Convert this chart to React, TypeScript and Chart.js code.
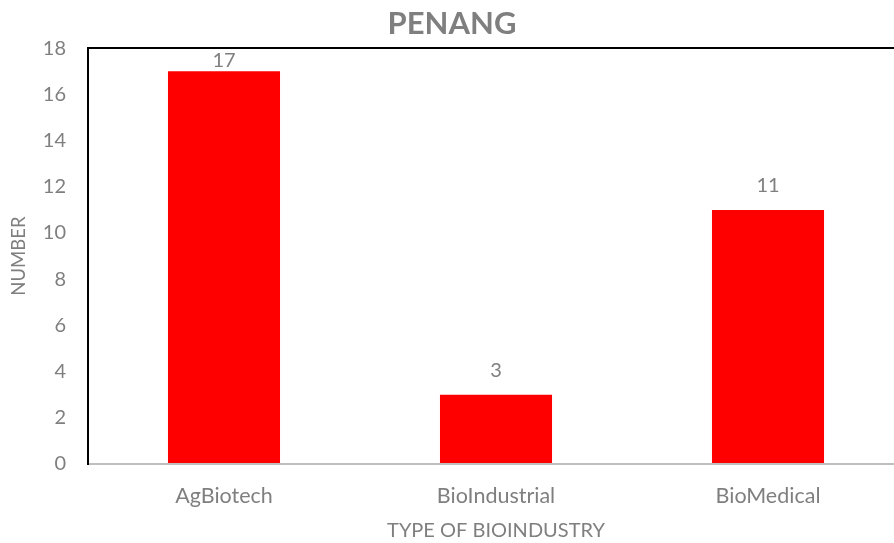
import React, { useEffect, useRef } from "react";
import { Chart, registerables } from "chart.js";

Chart.register(...registerables);

const categories = ["AgBiotech", "BioIndustrial", "BioMedical"];
const values = [17, 3, 11];
const titleText = "PENANG";
const xTitle = "TYPE OF BIOINDUSTRY";
const yTitle = "NUMBER";

const FONT = "Lato, 'Open Sans', sans-serif";
const GRAY = "#7f7f7f";

const labelPlugin = {
  id: "barLabels",
  afterDatasetsDraw(chart: any) {
    const ctx = chart.ctx;
    const meta = chart.getDatasetMeta(0);
    const top = chart.chartArea.top;
    ctx.save();
    ctx.fillStyle = GRAY;
    ctx.font = `20px ${FONT}`;
    ctx.textAlign = "center";
    ctx.textBaseline = "middle";
    meta.data.forEach((bar: any, i: number) => {
      let y = bar.y - 24;
      if (y < top + 12) y = top + 12;
      ctx.fillText(String(values[i]), bar.x, y);
    });
    ctx.restore();
  },
};

export default function App() {
  const ref = useRef<HTMLCanvasElement>(null);
  useEffect(() => {
    const chart = new Chart(ref.current!, {
      type: "bar",
      data: {
        labels: categories,
        datasets: [
          {
            data: values,
            backgroundColor: "#ff0000",
            categoryPercentage: 1,
            barPercentage: 0.412,
          },
        ],
      },
      options: {
        responsive: false,
        animation: false,
        layout: { padding: { left: 0, right: 6, top: 0, bottom: 0 } },
        plugins: {
          legend: { display: false },
          tooltip: { enabled: false },
          title: {
            display: true,
            text: titleText,
            color: GRAY,
            font: { family: FONT, size: 31, weight: "bold" },
            padding: { top: 5, bottom: 6 },
          },
        },
        scales: {
          x: {
            grid: { display: false, drawTicks: false },
            border: { display: true, color: "#bfbfbf", width: 2 },
            ticks: { color: GRAY, font: { family: FONT, size: 21.5 }, padding: 19 },
            title: {
              display: true,
              text: xTitle,
              color: GRAY,
              font: { family: FONT, size: 20 },
              padding: { top: 10, bottom: 0 },
            },
            afterFit: (s: any) => {
              s.height = 79;
            },
          },
          y: {
            min: 0,
            max: 18,
            ticks: { stepSize: 2, color: GRAY, font: { family: FONT, size: 20 }, padding: 22 },
            grid: {
              display: true,
              drawTicks: false,
              color: (c: any) => (c.tick && c.tick.value === 18 ? "#000000" : "rgba(0,0,0,0)"),
              lineWidth: 2,
            },
            border: { display: true, color: "#000000", width: 2 },
            title: {
              display: true,
              text: yTitle,
              color: GRAY,
              font: { family: FONT, size: 18.5 },
              padding: { top: 8, bottom: 0 },
            },
            afterFit: (s: any) => {
              s.width = 88;
            },
          },
        },
      },
      plugins: [labelPlugin],
    });
    return () => chart.destroy();
  }, []);
  return (
    <div
      style={{
        position: "fixed",
        left: 0,
        top: 0,
        width: 894,
        height: 543,
        overflow: "hidden",
        background: "#fff",
      }}
    >
      <canvas ref={ref} width={910} height={543} style={{ width: 910, height: 543, display: "block" }} />
    </div>
  );
}
